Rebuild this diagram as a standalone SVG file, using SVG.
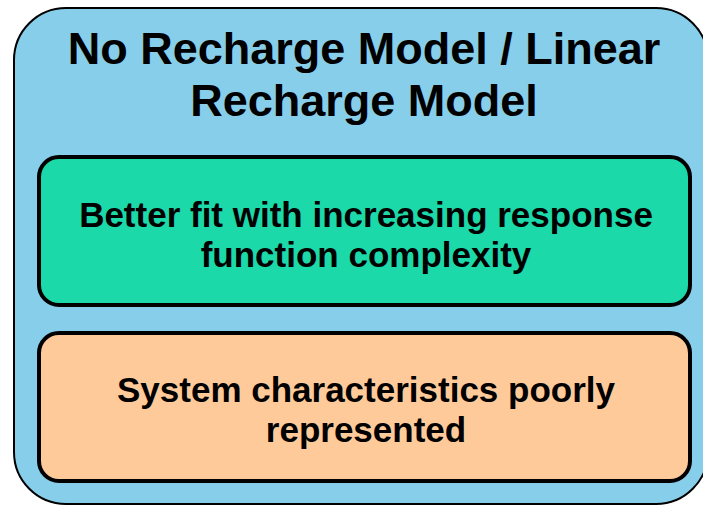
<svg xmlns="http://www.w3.org/2000/svg" width="703" height="506" viewBox="0 0 703 506">
<style>
text{font-family:"Liberation Sans",Arial,sans-serif;font-weight:bold;fill:#000;text-anchor:middle}
.t{font-size:45px}
.s{font-size:35px}
</style>
<rect width="703" height="506" fill="#fff"/>
<g id="outer">
<rect x="14" y="8" width="694" height="496" rx="52" fill="#87CEEB" stroke="#000" stroke-width="2"/>
<text class="t" x="364" y="64">No Recharge Model / Linear</text>
<text class="t" x="364" y="116">Recharge Model</text>
</g>
<g id="green">
<rect x="39" y="157" width="651" height="148" rx="20" fill="#1BD9A9" stroke="#000" stroke-width="4"/>
<text class="s" x="366" y="227">Better fit with increasing response</text>
<text class="s" x="366" y="267">function complexity</text>
</g>
<g id="orange">
<rect x="39" y="333" width="651" height="148" rx="20" fill="#FFCA99" stroke="#000" stroke-width="4"/>
<text class="s" x="366" y="402">System characteristics poorly</text>
<text class="s" x="366" y="442">represented</text>
</g>
</svg>
